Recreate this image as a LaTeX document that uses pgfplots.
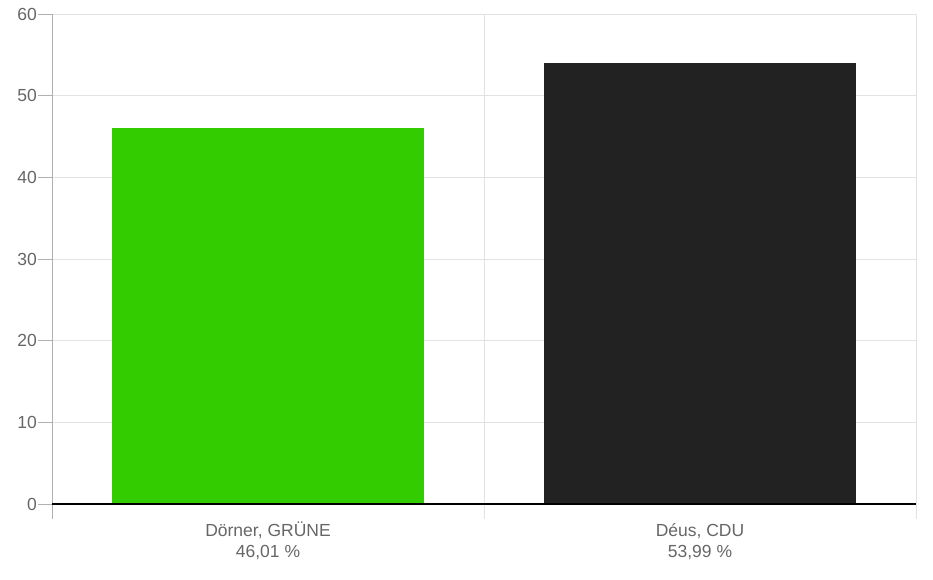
\documentclass[border=0pt]{standalone}
\usepackage{fontspec}
\setmainfont{Liberation Sans}
\usepackage{pgfplots}
\pgfplotsset{compat=1.18}
\definecolor{grn}{HTML}{33CC00}
\definecolor{blk}{HTML}{222222}
\definecolor{lbl}{HTML}{666666}
\definecolor{grd}{HTML}{E2E2E2}
\definecolor{axl}{HTML}{B0B0B0}
\begin{document}
\begin{tikzpicture}[x=1pt,y=1pt]
\begin{axis}[
  at={(0,0)}, anchor=south west,
  scale only axis, width=864pt, height=490pt,
  xmin=-0.5, xmax=1.5, ymin=0, ymax=60,
  ytick={0,10,20,30,40,50,60},
  xtick={0,1},
  xticklabels={{\vphantom{ÜÉ}Dörner, GRÜNE\\46,01 \%},{\vphantom{ÜÉ}Déus, CDU\\53,99 \%}},
  xticklabel style={align=center, font=\fontsize{17.5}{21.5}\selectfont, text=lbl, inner sep=3pt},
  yticklabel style={font=\fontsize{17.5}{21}\selectfont, text=lbl, inner sep=1pt},
  /pgf/number format/assume math mode=true,
  minor xtick={-0.5,0.5,1.5},
  xtick pos=bottom, ytick pos=left,
  tick align=outside,
  major tick length=14pt,
  minor tick length=15pt,
  major x tick style={draw=none},
  minor x tick style={draw=grd, line width=0.8pt},
  major y tick style={draw=axl, line width=0.8pt},
  ymajorgrids=true, xminorgrids=true,
  major grid style={draw=grd, line width=0.8pt},
  minor grid style={draw=grd, line width=0.8pt},
  axis line style={draw=none},
  clip=false,
]
\addplot[ybar, bar width=0.72, bar shift=0pt, fill=grn, draw=none] coordinates {(0,46.01)};
\addplot[ybar, bar width=0.72, bar shift=0pt, fill=blk, draw=none] coordinates {(1,53.99)};
\draw[axl, line width=0.9pt] (axis cs:-0.5,0) -- (axis cs:-0.5,60);
\draw[axl, line width=0.9pt] (axis cs:-0.5,0) -- ([yshift=-15pt]axis cs:-0.5,0);
\draw[black, line width=1.2pt] (axis cs:-0.5,0) -- (axis cs:1.5,0);
\end{axis}
\pgfresetboundingbox
\path (-52pt,-75pt) rectangle (881pt,504pt);
\end{tikzpicture}
\end{document}
